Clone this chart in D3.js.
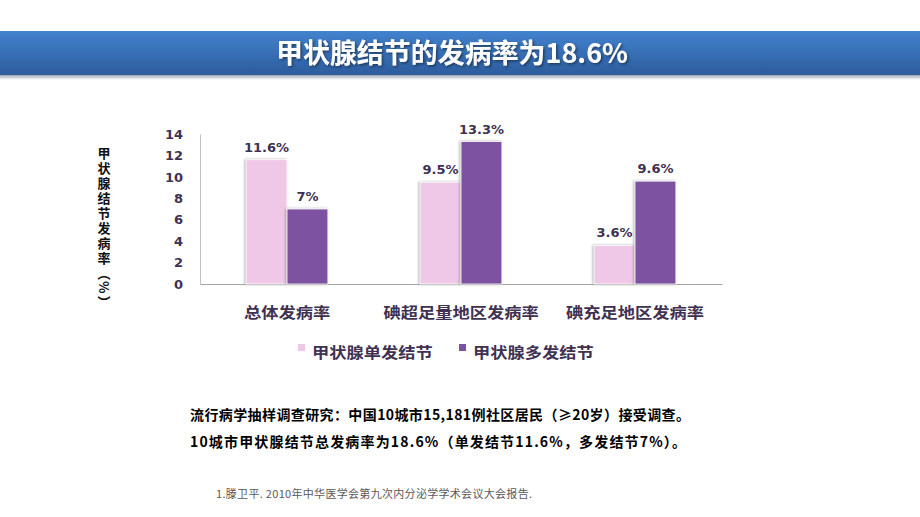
<!DOCTYPE html>
<html><head><meta charset="utf-8">
<script src="https://cdn.jsdelivr.net/npm/d3@7"></script>
<style>
html,body{margin:0;padding:0;background:#fff;}
svg{display:block;}
</style></head>
<body>
<svg id="c" width="920" height="517"></svg>
<script>
const titleText = "甲状腺结节的发病率为18.6%";
const categories = ["总体发病率", "碘超足量地区发病率", "碘充足地区发病率"];
const seriesNames = ["甲状腺单发结节", "甲状腺多发结节"];
const singleValues = [11.6, 9.5, 3.6];
const multipleValues = [7, 13.3, 9.6];
const yTicks = [0, 2, 4, 6, 8, 10, 12, 14];
const yTitle = "甲状腺结节发病率（%）";
const noteLines = [
  "流行病学抽样调查研究：中国10城市15,181例社区居民（≥20岁）接受调查。",
  "10城市甲状腺结节总发病率为18.6%（单发结节11.6%，多发结节7%）。"
];
const reference = "1.滕卫平. 2010年中华医学会第九次内分泌学学术会议大会报告.";

const colors = ["#efc8e7", "#7d52a1"];
const textDark = "#3f3151";
const cjk = "'Noto Sans CJK SC', 'Noto Sans', sans-serif";
const num = "'DejaVu Sans', sans-serif";

const svg = d3.select("#c");
const defs = svg.append("defs");

const g1 = defs.append("linearGradient").attr("id","bar").attr("x1",0).attr("y1",0).attr("x2",0).attr("y2",1);
g1.append("stop").attr("offset","0%").attr("stop-color","#4282ce");
g1.append("stop").attr("offset","100%").attr("stop-color","#2d5c9c");
const g2 = defs.append("linearGradient").attr("id","shadow").attr("x1",0).attr("y1",0).attr("x2",0).attr("y2",1);
g2.append("stop").attr("offset","0%").attr("stop-color","#9aa6b6");
g2.append("stop").attr("offset","100%").attr("stop-color","#ffffff");

const f = defs.append("filter").attr("id","bs").attr("x","-20%").attr("y","-10%").attr("width","140%").attr("height","120%");
f.append("feDropShadow").attr("dx",-1).attr("dy",0).attr("stdDeviation",1.3).attr("flood-color","#555").attr("flood-opacity",0.55);
const ft = defs.append("filter").attr("id","ts").attr("x","-5%").attr("y","-20%").attr("width","110%").attr("height","150%");
ft.append("feDropShadow").attr("dx",1.5).attr("dy",1.5).attr("stdDeviation",1).attr("flood-color","#1a2d4d").attr("flood-opacity",0.8);

function stretch(sel, k) {
  sel.each(function(){
    const L = this.getComputedTextLength();
    d3.select(this).attr("textLength", L * k).attr("lengthAdjust", "spacingAndGlyphs");
  });
}
function fitTo(sel, w, mode) {
  sel.attr("textLength", w).attr("lengthAdjust", mode || "spacingAndGlyphs");
}

// title bar
svg.append("rect").attr("x",0).attr("y",75).attr("width",920).attr("height",5).attr("fill","url(#shadow)");
svg.append("rect").attr("x",0).attr("y",31).attr("width",920).attr("height",44).attr("fill","url(#bar)");
svg.append("text").attr("x",276).attr("y",63)
  .attr("font-family",cjk).attr("font-weight","bold").attr("font-size",27)
  .attr("fill","#fff").attr("filter","url(#ts)").text(titleText).call(fitTo, 352);

// scales
const left = 200, right = 722, y0 = 284, yTop = 134;
const y = d3.scaleLinear().domain([0, 14]).range([y0, yTop]);
const x0 = d3.scaleBand().domain(categories).range([left, right]).paddingInner(0.53).paddingOuter(0.265);
const x1 = d3.scaleBand().domain(seriesNames).range([0, x0.bandwidth()]);

// axes
const yAxis = svg.append("g").attr("transform",`translate(${left},0)`)
  .call(d3.axisLeft(y).tickValues(yTicks).tickSize(0).tickPadding(17));
yAxis.select(".domain").attr("stroke","#bfbfbf").attr("stroke-width",1);
yAxis.selectAll("text").attr("font-family",num).attr("font-weight","bold").attr("font-size",13).attr("fill",textDark);

const xAxis = svg.append("g").attr("transform",`translate(0,${y0})`)
  .call(d3.axisBottom(x0).tickSize(0).tickPadding(0));
xAxis.select(".domain").attr("stroke","#a6a6a6").attr("stroke-width",1);
xAxis.selectAll("text").attr("y",34).attr("dy",0)
  .attr("font-family",cjk).attr("font-weight","bold").attr("font-size",15).attr("fill",textDark)
  .call(stretch, 1.15);

// bars
const rows = categories.map((c,i)=>({cat:c, vals:[singleValues[i], multipleValues[i]]}));
const groups = svg.append("g").selectAll("g").data(rows).join("g")
  .attr("transform", d => `translate(${x0(d.cat)},0)`);
groups.selectAll("rect").data(d => d.vals.map((v,j)=>({s:seriesNames[j], v, j}))).join("rect")
  .attr("x", d => x1(d.s)).attr("width", x1.bandwidth())
  .attr("y", d => y(d.v)).attr("height", d => y0 - y(d.v))
  .attr("fill", d => colors[d.j]).attr("stroke","#fff").attr("stroke-width",0.8)
  .attr("filter","url(#bs)");
groups.selectAll("text").data(d => d.vals.map((v,j)=>({s:seriesNames[j], v, j}))).join("text")
  .attr("x", d => x1(d.s) + x1.bandwidth()/2).attr("y", d => y(d.v) - 8)
  .attr("text-anchor","middle").attr("font-family",num).attr("font-weight","bold").attr("font-size",13)
  .attr("fill",textDark).text(d => d.v + "%");

// y title (vertical)
svg.append("text").attr("x",104).attr("y",147)
  .attr("font-family",cjk).attr("font-weight","bold").attr("font-size",13)
  .attr("fill","#111").style("writing-mode","vertical-rl").style("letter-spacing","1.9px")
  .text(yTitle);

// legend
const lg = svg.append("g");
const legendPos = [[298,312],[459,473]];
seriesNames.forEach((s,i)=>{
  lg.append("rect").attr("x",legendPos[i][0]).attr("y",344).attr("width",7).attr("height",7).attr("fill",colors[i]);
  lg.append("text").attr("x",legendPos[i][1]).attr("y",358)
    .attr("font-family",cjk).attr("font-weight","bold").attr("font-size",15).attr("fill",textDark)
    .text(s).call(stretch,1.15);
});

// notes
const noteWidths = [500, 496];
noteLines.forEach((t,i)=>{
  svg.append("text").attr("x",190).attr("y",420 + i*27)
    .attr("font-family",cjk).attr("font-weight","bold").attr("font-size",14).attr("fill","#000").text(t)
    .call(fitTo, noteWidths[i], "spacing");
});
svg.append("text").attr("x",216).attr("y",498)
  .attr("font-family",cjk).attr("font-size",11).attr("fill","#595959").text(reference)
  .call(fitTo, 316, "spacing");
</script>
</body></html>
